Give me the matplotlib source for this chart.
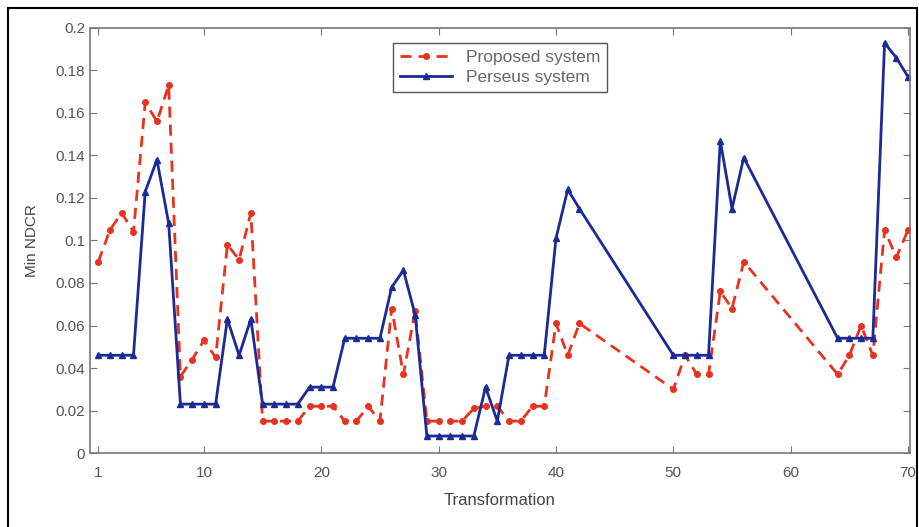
import numpy as np
import matplotlib.pyplot as plt
from matplotlib.patches import Rectangle

# transformation index (points 43-49 and 57-63 are absent in the source)
transformation = list(range(1, 43)) + list(range(50, 57)) + list(range(64, 71))

proposed = [0.090, 0.105, 0.113, 0.104, 0.165, 0.156, 0.173, 0.036, 0.044, 0.053,
            0.045, 0.098, 0.091, 0.113, 0.015, 0.015, 0.015, 0.015, 0.022, 0.022,
            0.022, 0.015, 0.015, 0.022, 0.015, 0.068, 0.037, 0.067, 0.015, 0.015,
            0.015, 0.015, 0.021, 0.022, 0.022, 0.015, 0.015, 0.022, 0.022, 0.061,
            0.046, 0.061,
            0.030, 0.046, 0.037, 0.037, 0.076, 0.068, 0.090,
            0.037, 0.046, 0.060, 0.046, 0.105, 0.092, 0.105]

perseus = [0.046, 0.046, 0.046, 0.046, 0.123, 0.138, 0.108, 0.023, 0.023, 0.023,
           0.023, 0.063, 0.046, 0.063, 0.023, 0.023, 0.023, 0.023, 0.031, 0.031,
           0.031, 0.054, 0.054, 0.054, 0.054, 0.078, 0.086, 0.065, 0.008, 0.008,
           0.008, 0.008, 0.008, 0.031, 0.015, 0.046, 0.046, 0.046, 0.046, 0.101,
           0.124, 0.115,
           0.046, 0.046, 0.046, 0.046, 0.147, 0.115, 0.139,
           0.054, 0.054, 0.054, 0.054, 0.193, 0.186, 0.177]

xticks = [1, 10, 20, 30, 40, 50, 60, 70]
yticks = np.arange(0, 0.201, 0.02)
ytick_labels = ['0', '0.02', '0.04', '0.06', '0.08', '0.1', '0.12', '0.14', '0.16', '0.18', '0.2']

plt.rcParams['font.family'] = ['Liberation Sans', 'DejaVu Sans']

fig = plt.figure(figsize=(9.19, 5.27), dpi=100)
ax = fig.add_axes([0.098, 0.1404, 0.892, 0.8065])

ax.plot(transformation, proposed, color='#e8321e', linestyle='--', linewidth=2.0,
        marker='o', markersize=4, dashes=(4, 2.5), label='Proposed system')
ax.plot(transformation, perseus, color='#1c2a96', linestyle='-', linewidth=2.0,
        marker='^', markersize=4.5, label='Perseus system')

ax.set_xlim(0.3, 70.15)
ax.set_ylim(0, 0.2)
ax.set_xticks(xticks)
ax.set_yticks(yticks)
ax.set_yticklabels(ytick_labels)
ax.tick_params(direction='in', top=True, right=True, labelsize=11,
               labelcolor='#555555', color='#777777', length=5)
ax.tick_params(axis='x', pad=9)
for s in ax.spines.values():
    s.set_color('#777777')
    s.set_linewidth(1.2)

ax.set_xlabel('Transformation', fontsize=12, color='#444444', labelpad=10)
ax.set_ylabel('Min NDCR', fontsize=11, color='#444444', labelpad=12)

leg = ax.legend(loc='upper center', bbox_to_anchor=(0.5, 0.985), fontsize=12.5,
                handlelength=3, fancybox=False, framealpha=1, borderpad=0.4,
                labelspacing=0.3)
leg.get_frame().set_edgecolor('#555555')
for t in leg.get_texts():
    t.set_color('#666666')

# outer black frame round the picture
fig.patches.append(Rectangle((8 / 919, -0.05), 909 / 919, 1.05 - 8 / 527,
                             transform=fig.transFigure, fill=False,
                             edgecolor='black', linewidth=1.5))

fig.savefig('out.png', dpi=100)
